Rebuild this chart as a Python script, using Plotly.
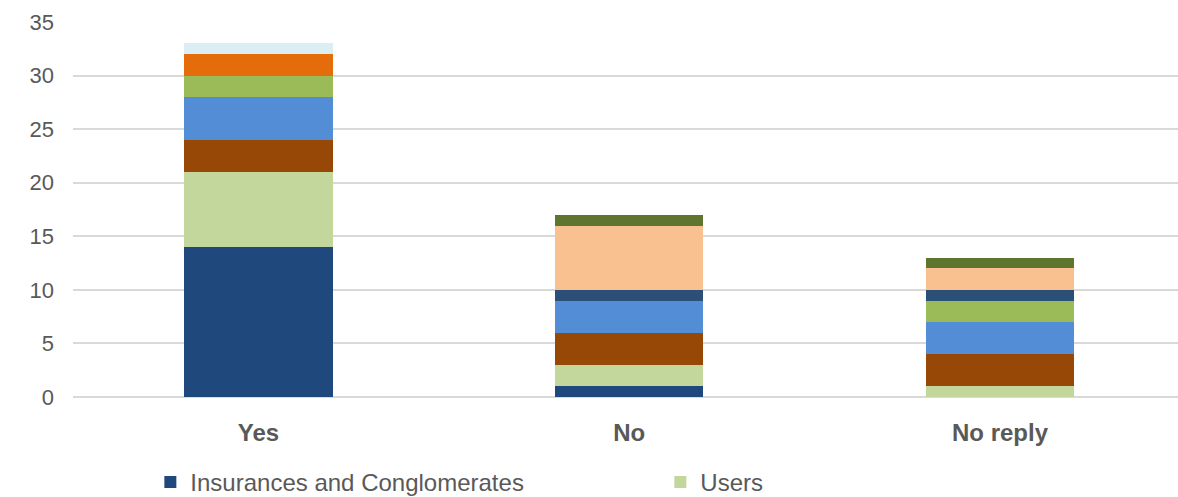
import plotly.graph_objects as go

categories = ["Yes", "No", "No reply"]

series_names = [
    "Insurances and Conglomerates",
    "Users",
    "Banks",
    "Investment Firms",
    "Asset Managers",
    "Public Authorities",
    "Consultants",
    "Associations",
    "Other",
    "Individuals",
]
insurances = [14, 1, 0]
users = [7, 2, 1]
banks = [3, 3, 3]
investment_firms = [4, 3, 3]
asset_managers = [2, 0, 2]
public_authorities = [2, 0, 0]
consultants = [1, 0, 0]
associations = [0, 1, 1]
other = [0, 6, 2]
individuals = [0, 1, 1]

series_values = [insurances, users, banks, investment_firms, asset_managers,
                 public_authorities, consultants, associations, other, individuals]
colors = ["#1F497D", "#C3D69B", "#974706", "#538DD5", "#9BBB59",
          "#E46C0A", "#DAEEF3", "#2B4F76", "#F9C090", "#5E7530"]
shown_in_legend = [True, True] + [False] * 8

fig = go.Figure()
for name, vals, col, show in zip(series_names, series_values, colors, shown_in_legend):
    fig.add_trace(go.Bar(
        x=categories, y=vals, name=name,
        marker=dict(color=col, line=dict(width=0)),
        showlegend=show,
    ))

font_family = "Liberation Sans, Arial, sans-serif"
fig.update_layout(
    width=1178, height=497,
    margin=dict(l=73, r=0, t=22, b=100, autoexpand=False),
    barmode="stack",
    bargap=0.6,
    plot_bgcolor="white",
    paper_bgcolor="white",
    font=dict(family=font_family, color="#595959"),
    xaxis=dict(
        type="category",
        range=[-0.5, 2.48],
        showgrid=False,
        showline=False,
        zeroline=False,
        ticks="",
        tickfont=dict(size=24, color="#595959", family=font_family, weight="bold"),
        ticklabelstandoff=19,
    ),
    yaxis=dict(
        range=[0, 35],
        dtick=5,
        showgrid=True,
        gridcolor="#D9D9D9",
        gridwidth=2,
        zeroline=True,
        zerolinecolor="#D9D9D9",
        zerolinewidth=2,
        showline=False,
        ticks="",
        tickfont=dict(size=22, color="#595959", family=font_family),
        ticklabelstandoff=18,
    ),
    legend=dict(
        orientation="h",
        x=0.07, xanchor="left",
        y=-0.228, yanchor="middle",
        font=dict(size=24, color="#595959", family=font_family),
        entrywidth=465,
        entrywidthmode="pixels",
        itemwidth=30,
        traceorder="normal",
        bgcolor="rgba(0,0,0,0)",
    ),
)

fig.write_html("out.html")
